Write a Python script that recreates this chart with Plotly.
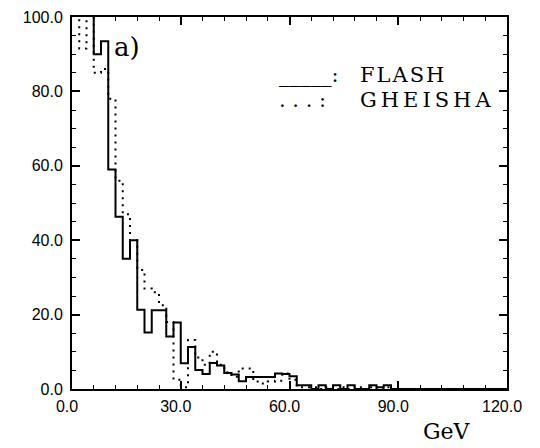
import plotly.graph_objects as go

# ---- data (2 GeV bins, lower edges) ----
bin_low_gev = [0, 2, 4, 6, 8, 10, 12, 14, 16, 18, 20, 22, 24, 26, 28, 30, 32, 34, 36, 38,
               40, 42, 44, 46, 48, 50, 52, 54, 56, 58, 60, 62, 64, 66, 68, 70, 72, 74, 76, 78,
               80, 82, 84, 86, 88, 90, 92, 94, 96, 98, 100, 102, 104, 106, 108, 110, 112, 114, 116, 118]

flash = [120, 120, 120, 90, 93.5, 59, 46.3, 35, 40, 21.3,
         15.2, 21.2, 21.2, 14.1, 17.9, 6.9, 11.3, 5.1, 4.0, 7.0,
         6.3, 4.3, 3.9, 2.1, 3.2, 3.2, 3.2, 3.2, 4.2, 4.0,
         3.4, 1.0, 1.0, 0, 1.0, 0, 1.0, 0, 1.0, 0,
         0, 1.0, 0.5, 1.0, 0, 0, 0, 0, 0, 0,
         0, 0, 0, 0, 0, 0, 0, 0, 0, 0]

gheisha = [120, 91.5, 120, 85, 86, 78, 56, 47, 40, 32,
           27, 26, 22.5, 18, 2.5, 0.5, 13.2, 8.5, 6.5, 10,
           6.5, 4.5, 3.3, 5.5, 5.5, 2.0, 1.5, 2.0, 2.2, 4.2,
           2.5, 0.5, 0.5, 0.5, 0, 0.5, 0, 0.5, 0, 0.5,
           0, 0.5, 0, 0.5, 0, 0, 0, 0, 0, 0,
           0, 0, 0, 0, 0, 0, 0, 0, 0, 0]

x_tick_vals = [0, 30, 60, 90, 120]
x_tick_text = ["0.0", "30.0", "60.0", "90.0", "120.0"]
y_tick_vals = [0, 20, 40, 60, 80, 100]
y_tick_text = ["0.0", "20.0", "40.0", "60.0", "80.0", "100.0"]


def step_xy(lows, vals):
    width = lows[1] - lows[0]
    xs = list(lows) + [lows[-1] + width]
    ys = list(vals) + [vals[-1]]
    return xs, ys


fig = go.Figure()
gx, gy = step_xy(bin_low_gev, gheisha)
fig.add_trace(go.Scatter(x=gx, y=gy, mode="lines", line_shape="hv",
                         line=dict(color="black", width=2, dash="2px,5px"),
                         name="GHEISHA", showlegend=False, hoverinfo="skip"))
fx, fy = step_xy(bin_low_gev, flash)
fig.add_trace(go.Scatter(x=fx, y=fy, mode="lines", line_shape="hv",
                         line=dict(color="black", width=2),
                         name="FLASH", showlegend=False, hoverinfo="skip"))

tickfont = dict(family="Liberation Sans", size=16, color="black")
serif = "DejaVu Serif"

fig.update_layout(
    template="none",
    width=540, height=448,
    margin=dict(l=64, r=41, t=9, b=67, autoexpand=False),
    paper_bgcolor="white", plot_bgcolor="white",
    xaxis=dict(range=[0, 120], tickmode="array", tickvals=x_tick_vals, ticktext=x_tick_text,
               ticks="inside", ticklen=8, tickwidth=1.5, tickcolor="black",
               minor=dict(dtick=6, tick0=0, ticks="inside", ticklen=4, tickwidth=1.2, tickcolor="black"),
               showline=True, linewidth=2, linecolor="black", mirror="allticks",
               showgrid=False, zeroline=False, tickfont=tickfont, ticklabelstandoff=2,
               ticklabelshift=-5, automargin=False, ticklabeloverflow="allow"),
    yaxis=dict(range=[0, 100], tickmode="array", tickvals=y_tick_vals, ticktext=y_tick_text,
               ticks="inside", ticklen=8, tickwidth=1.5, tickcolor="black",
               minor=dict(dtick=5, tick0=0, ticks="inside", ticklen=4, tickwidth=1.2, tickcolor="black"),
               showline=True, linewidth=2, linecolor="black", mirror="allticks",
               showgrid=False, zeroline=False, tickfont=tickfont, ticklabelstandoff=4,
               automargin=False, ticklabeloverflow="allow"),
)

ann_font = dict(family=serif, size=21, color="black")
fig.add_annotation(x=0.471, y=0.843, xref="paper", yref="paper", xanchor="left", yanchor="middle",
                   text="_____:", showarrow=False, font=ann_font)
fig.add_annotation(x=0.657, y=0.843, xref="paper", yref="paper", xanchor="left", yanchor="middle",
                   text='<span style="letter-spacing:2px">FLASH</span>', showarrow=False, font=ann_font)
fig.add_annotation(x=0.471, y=0.777, xref="paper", yref="paper", xanchor="left", yanchor="middle",
                   text=". . . :", showarrow=False, font=ann_font)
fig.add_annotation(x=0.657, y=0.777, xref="paper", yref="paper", xanchor="left", yanchor="middle",
                   text='<span style="letter-spacing:4px">GHEISHA</span>', showarrow=False, font=ann_font)
fig.add_annotation(x=0.092, y=0.92, xref="paper", yref="paper", xanchor="left", yanchor="middle",
                   text="a)", showarrow=False, font=dict(family=serif, size=26, color="black"))
fig.add_annotation(x=0.862, y=-0.115, xref="paper", yref="paper", xanchor="center", yanchor="middle",
                   text="GeV", showarrow=False, font=dict(family=serif, size=22, color="black"))

fig.write_html("out.html")
